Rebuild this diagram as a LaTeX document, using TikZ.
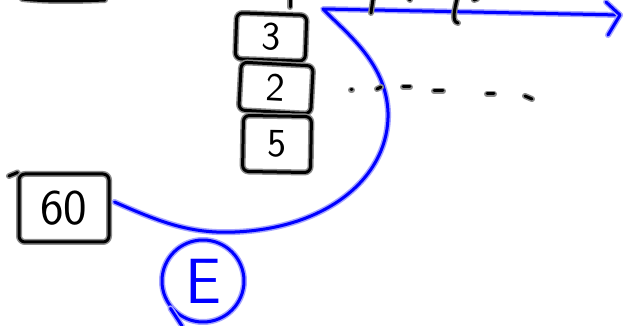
\documentclass[tikz,border=0pt]{standalone}
\usepackage{fontspec}
\usetikzlibrary{arrows.meta}
\tikzset{
  ink/.style={draw=black, line width=3pt, line cap=round, line join=round,
    preaction={draw=black!45, line width=6pt, line cap=round, line join=round}},
  blueink/.style={draw=blue, line width=3pt, line cap=round, line join=round,
    preaction={draw=blue!35, line width=6pt, line cap=round, line join=round}},
  card/.style={ink, rounded corners=6pt, inner sep=0pt, font=\fontsize{40}{40}\selectfont\sffamily},
}
\begin{document}
\begin{tikzpicture}[x=1pt,y=-1pt]
\useasboundingbox (0,0) rectangle (625,326);
% partial box at top-left
\path[ink] (22,-1) .. controls (50,2) and (80,1) .. (105,0);
% tick above stack
\path[ink] (290,-2) -- (290,7);
% stack of cards
\node[card, minimum width=70pt, minimum height=46pt, rotate=-2] (c3) at (271,37) {3};
\node[card, minimum width=72pt, minimum height=48pt, rotate=-3] (c2) at (276,88) {2};
\node[card, minimum width=68pt, minimum height=56pt, rotate=-1] (c5) at (277,144) {5};
% box 60
\node[card, minimum width=90pt, minimum height=68pt, font=\fontsize{50}{50}\selectfont\sffamily] (c60) at (64,208) {60};
\path[ink] (9,176) -- (c60.north west);
% blue connector and arrow
\coordinate (corner) at (323,9);
\coordinate (tip) at (620,15);
\path[blueink] (c60.east) ++(4,-6) .. controls (160,222) and (190,234) .. (235,232)
  .. controls (330,228) and (390,175) .. (388,112)
  .. controls (386,62) and (345,32) .. (corner) -- (tip);
\path[blueink] (606,2) -- (tip) -- (608,35);
% marks on arrow
\path[ink] (373,-1) -- (371,13);
\path[ink] (457,-1) .. controls (455,8) and (451,22) .. (458,23);
\path[ink] (409,-1) -- (410,0);
\path[ink] (474,0) -- (477,-1);
% dashed trail
\path[ink] (351,90) -- (352,90);
\path[ink] (377,89) -- (381,87);
\path[ink] (403,87) -- (410,87);
\path[ink] (434,91) -- (443,91);
\path[ink] (487,94) -- (494,94);
\path[ink] (525,96) -- (532,99);
% E circle
\node[blueink, circle, minimum size=82pt, inner sep=0pt, text=blue,
  font=\fontsize{64}{64}\selectfont\sffamily] (E) at (203,281) {E};
\path[blueink] (E.220) -- (182,326);
\end{tikzpicture}
\end{document}
